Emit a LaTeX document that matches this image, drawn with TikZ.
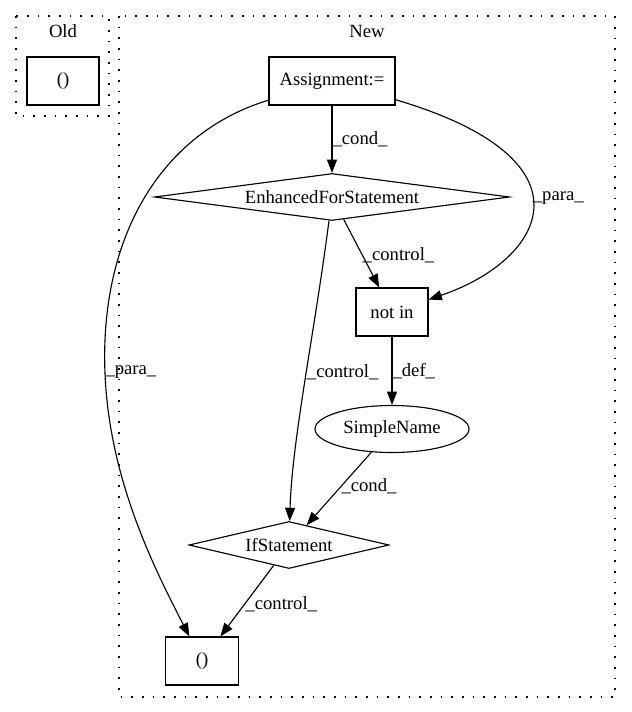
\documentclass[tikz,border=0pt]{standalone}
\usepackage{fontspec}
\setmainfont{Liberation Serif}
\usetikzlibrary{arrows.meta,shapes.geometric}
\tikzset{
  box/.style={draw, rectangle, line width=0.85pt, minimum height=36pt, inner sep=0pt},
  diam/.style={draw, diamond, line width=0.85pt, inner sep=0pt, minimum height=35.25pt},
  ell/.style={draw, ellipse, line width=0.85pt, minimum width=115.5pt, minimum height=35.25pt, inner sep=0pt},
  lbl/.style={inner sep=0pt, anchor=west},
  cluster/.style={draw, line width=0.85pt, dash pattern=on 1.2pt off 6.8pt},
  edge/.style={->, line width=0.85pt},
  >={Triangle[length=10pt,width=7.5pt]}
}

\begin{document}
\begin{tikzpicture}[x=0.75pt, y=-0.75pt, every node/.style={font=\fontsize{14}{16}\selectfont}]
\useasboundingbox (0,0) rectangle (631,712);

% clusters
\draw[cluster] (16,16) rectangle (109,116);
\draw[cluster] (119,16) rectangle (615,697);
\node (oldlbl) at (63,31) {Old};
\node (newlbl) at (367,31) {New};

% nodes
\node[box, minimum width=54pt] (old) at (63,81) {()};
\node[box, minimum width=94.5pt] (asg) at (332,81) {Assignment:=};
\node[diam, minimum width=266.25pt, shape aspect=7.5] (efs) at (332,197) {EnhancedForStatement};
\node[box, minimum width=54pt] (notin) at (392,312) {not in};
\node[ell] (sn) at (392,429) {SimpleName};
\node[diam, minimum width=150pt, shape aspect=4.25] (ifs) at (289,545) {IfStatement};
\node[box, minimum width=54.75pt] (bot) at (202,661) {()};

% edges
\draw[edge] (asg) -- (efs) node[lbl, pos=0.5] {\_cond\_};
\draw[edge] (asg) .. controls (600,160) and (545,260) .. (notin) node[lbl, pos=0.46] {\_para\_};
\draw[edge] (asg) .. controls (170,130) and (110,220) .. (105,340)
  .. controls (100,460) and (150,560) .. (bot) node[lbl, pos=0.09] {\_para\_};
\draw[edge] (efs) -- (notin) node[lbl, pos=0.52] {\_control\_};
\draw[edge] (efs) .. controls (315,330) and (292,440) .. (ifs) node[lbl, pos=0.47] {\_control\_};
\draw[edge] (notin) -- (sn) node[lbl, pos=0.5] {\_def\_};
\draw[edge] (sn) -- (ifs) node[lbl, pos=0.47] {\_cond\_};
\draw[edge] (ifs) -- (bot) node[lbl, pos=0.54] {\_control\_};
\end{tikzpicture}
\end{document}
